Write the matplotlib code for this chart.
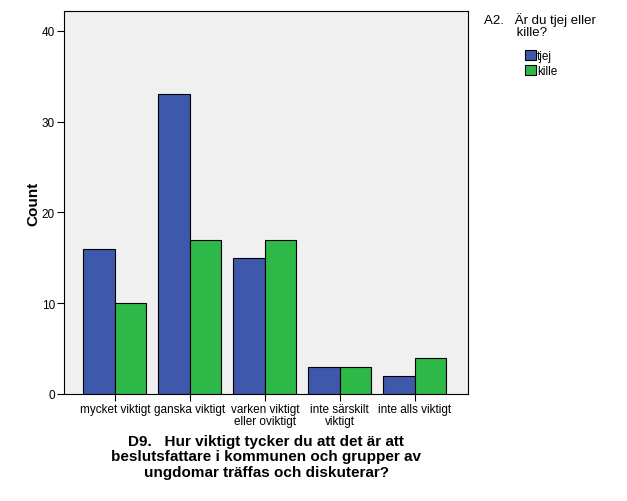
import matplotlib
matplotlib.use("Agg")
import matplotlib.pyplot as plt
import numpy as np

categories = ["mycket viktigt", "ganska viktigt", "varken viktigt\neller oviktigt", "inte särskilt\nviktigt", "inte alls viktigt"]
tjej = [16, 33, 15, 3, 2]
kille = [10, 17, 17, 3, 4]
series_names = ["tjej", "kille"]
yticks = [0, 10, 20, 30, 40]

plt.rcParams['font.family'] = ['Liberation Sans', 'DejaVu Sans']

fig = plt.figure(figsize=(6.27, 5.02), dpi=100)
ax = fig.add_axes([64/627, 1-395/502, (468-64)/627, (395-12)/502])
ax.set_facecolor('#F0F0F0')

x = np.arange(len(categories))
w = 0.42
b1 = ax.bar(x - w/2, tjej, w, color='#3E58AC', edgecolor='black', linewidth=0.8, label=series_names[0], zorder=2)
b2 = ax.bar(x + w/2, kille, w, color='#2EB848', edgecolor='black', linewidth=0.8, label=series_names[1], zorder=2)

ax.set_xlim(-0.68, 4.71)
ax.set_ylim(0, 42.2)
ax.set_yticks(yticks)
ax.set_xticks(x)
ax.set_xticklabels(categories, fontsize=8.5, linespacing=1.0)
ax.tick_params(axis='y', labelsize=8.5, length=5, width=0.8, color='black', pad=1.5)
ax.tick_params(axis='x', length=5, width=0.8, color='black', pad=1.5)
for s in ax.spines.values():
    s.set_linewidth(0.8)
ax.set_ylabel("Count", fontsize=11, fontweight='bold', labelpad=1)
ax.set_xlabel("D9.   Hur viktigt tycker du att det är att\nbeslutsfattare i kommunen och grupper av\nungdomar träffas och diskuterar?",
              fontsize=11, fontweight='bold', linespacing=1.12, labelpad=5)

fig.text(484/627, 1-26/502, "A2.   Är du tjej eller\n         kille?", fontsize=9.5, va='center', ha='left', linespacing=0.95)
leg = fig.legend(handles=[b1, b2], labels=series_names, loc='upper left', bbox_to_anchor=(525/627, 1-51/502),
                 frameon=False, fontsize=8.5, handlelength=0.9, handleheight=0.9, handletextpad=0.1,
                 labelspacing=0.25, borderpad=0, borderaxespad=0)

fig.savefig("out.png", dpi=100)
